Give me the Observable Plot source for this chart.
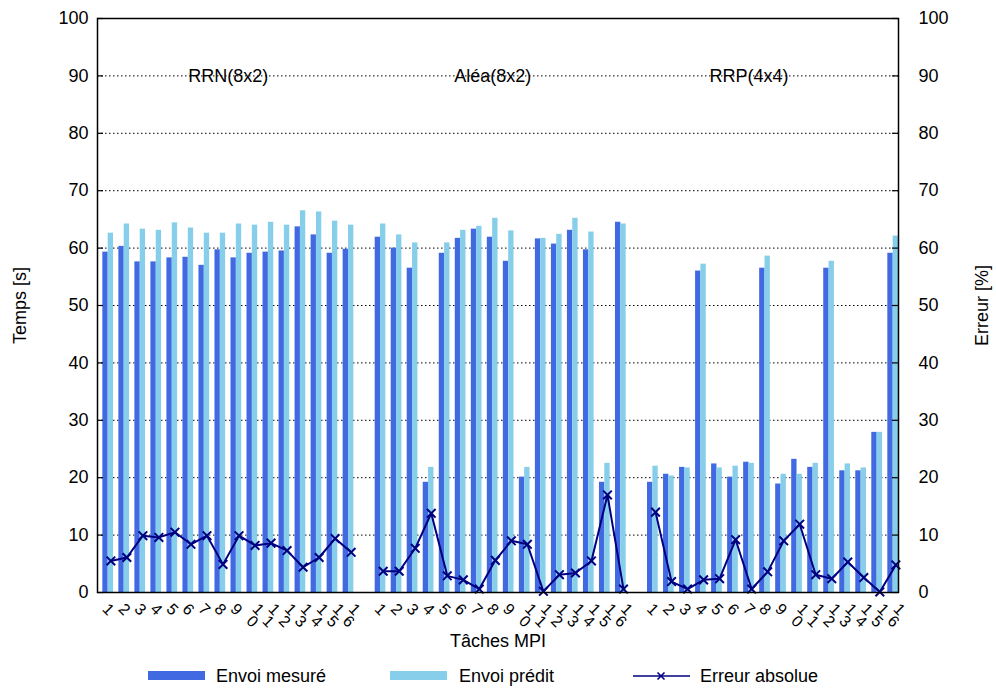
<!DOCTYPE html>
<html><head><meta charset="utf-8">
<script src="https://cdn.jsdelivr.net/npm/d3@7"></script>
<script src="https://cdn.jsdelivr.net/npm/@observablehq/plot@0.6"></script>
<style>
body{margin:0;background:#fff;font-family:"Liberation Sans",Arial,Helvetica,sans-serif;}
#wrap{position:relative;width:996px;height:689px;background:#fff;}
#legend{position:absolute;left:0;top:660px;width:996px;height:29px;font-size:18px;color:#000;}
#legend .sw{position:absolute;top:11px;width:57px;height:9px;}
#legend .lb{position:absolute;top:0;height:32px;line-height:32px;white-space:nowrap;}
#legend svg{position:absolute;top:9px;}
</style></head><body>
<div id="wrap"><div id="chart"></div><div id="legend"></div></div>
<script>
// ---- data ----
const taskLabels = ["1","2","3","4","5","6","7","8","9","10","11","12","13","14","15","16"];
const groupNames = ["RRN(8x2)","Aléa(8x2)","RRP(4x4)"];
const groupLabelAt = [7.5, 24, 40];
const seriesNames = ["Envoi mesuré","Envoi prédit","Erreur absolue"];

const rrnMesure = [59.3,60.3,57.6,57.6,58.3,58.4,57.0,59.7,58.3,59.1,59.3,59.5,63.7,62.3,59.1,59.8];
const rrnPredit = [62.6,64.2,63.3,63.1,64.4,63.5,62.6,62.6,64.2,64.0,64.5,64.0,66.5,66.3,64.7,64.0];
const rrnErreur = [5.5,6.1,9.9,9.6,10.5,8.4,9.9,4.9,9.9,8.2,8.6,7.3,4.4,6.1,9.4,7.0];

const aleaMesure = [61.9,60.0,56.5,19.2,59.1,61.7,63.3,61.9,57.7,20.1,61.6,60.7,63.1,59.7,19.2,64.5];
const aleaPredit = [64.2,62.3,60.9,21.8,60.9,63.1,63.8,65.2,63.0,21.8,61.7,62.4,65.2,62.8,22.5,64.2];
const aleaErreur = [3.7,3.7,7.7,13.8,2.9,2.2,0.6,5.6,9.0,8.4,0.2,3.1,3.4,5.5,17.0,0.6];

const rrpMesure = [19.2,20.6,21.8,56.0,22.4,20.1,22.7,56.5,18.9,23.2,21.8,56.5,21.2,21.2,27.9,59.1];
const rrpPredit = [22.0,20.3,21.7,57.2,21.7,22.0,22.5,58.6,20.6,20.6,22.5,57.7,22.4,21.7,27.9,62.1];
const rrpErreur = [14.0,1.9,0.6,2.2,2.4,9.2,0.6,3.6,9.0,11.9,3.1,2.4,5.3,2.6,0.1,4.8];

const yTicks = [0,10,20,30,40,50,60,70,80,90,100];
const gridValues = [10,20,30,40,50,60,70,80,90];

// ---- table ----
const groups = [
  [rrnMesure, rrnPredit, rrnErreur],
  [aleaMesure, aleaPredit, aleaErreur],
  [rrpMesure, rrpPredit, rrpErreur]
];
const rows = [];
groups.forEach(([m, p, e], g) => {
  taskLabels.forEach((lab, t) => {
    rows.push({group: g, slot: g * 17 + t, label: lab, mes: m[t], pred: p[t], err: e[t]});
  });
});
// tick labels: each glyph turned 45°, second glyph set below-left of the first
const charRows = rows.flatMap(r => [...r.label].map((ch, k) => ({slot: r.slot, ch, k, n: r.label.length})));

const colMes = "#4169e1", colPred = "#87ceeb", colErr = "#000080";
const W = 996, H = 660, mL = 97, mR = 98, mT = 18, mB = 68;
const plotW = W - mL - mR;
const tickFont = 16;
const tickOpts = (extra) => Object.assign({x: d => d.slot + 2/3, y: 0, text: "ch", rotate: 45, textAnchor: "middle", lineAnchor: "middle", fontSize: tickFont}, extra);

const chart = Plot.plot({
  width: W, height: H,
  marginLeft: mL, marginRight: mR, marginTop: mT, marginBottom: mB,
  style: {fontFamily: "'Liberation Sans', Arial, Helvetica, sans-serif", fontSize: "18px", background: "#fff", color: "#000"},
  x: {domain: [0, 50], axis: null},
  y: {domain: [0, 100], axis: null},
  marks: [
    Plot.ruleY(gridValues, {stroke: "#000", strokeWidth: 1, strokeDasharray: "1.5,2.5"}),
    Plot.rect(rows, {x1: d => d.slot + 1/3, x2: d => d.slot + 2/3, y1: 0, y2: "mes", fill: colMes}),
    Plot.rect(rows, {x1: d => d.slot + 2/3, x2: d => d.slot + 1, y1: 0, y2: "pred", fill: colPred}),
    Plot.line(rows, {x: d => d.slot + 5/6, y: "err", z: "group", stroke: colErr, strokeWidth: 2}),
    Plot.dot(rows, {x: d => d.slot + 5/6, y: "err", symbol: "times", r: 4, stroke: colErr, strokeWidth: 2}),
    Plot.ruleY(yTicks, {stroke: "#000", strokeWidth: 1.2, insetRight: plotW - 6}),
    Plot.ruleY(yTicks, {stroke: "#000", strokeWidth: 1.2, insetLeft: plotW - 6}),
    Plot.frame({stroke: "#000", strokeWidth: 1.5}),
    Plot.axisY(yTicks, {anchor: "left", tickSize: 0, tickPadding: 9, label: null, fontSize: 18}),
    Plot.axisY(yTicks, {anchor: "right", tickSize: 0, tickPadding: 20, label: null, fontSize: 18}),
    Plot.text(charRows.filter(c => c.n === 1), tickOpts({dx: 0, dy: 17})),
    Plot.text(charRows.filter(c => c.n === 2 && c.k === 0), tickOpts({dx: 6, dy: 17})),
    Plot.text(charRows.filter(c => c.n === 2 && c.k === 1), tickOpts({dx: 0, dy: 29})),
    Plot.text(groupNames, {x: (d, i) => groupLabelAt[i] + 2/3, y: 90, text: d => d, fontSize: 18}),
    Plot.text(["Temps [s]"], {frameAnchor: "left", rotate: -90, dx: -77, textAnchor: "middle", lineAnchor: "middle", fontSize: 18}),
    Plot.text(["Erreur [%]"], {frameAnchor: "right", rotate: -90, dx: 84, textAnchor: "middle", lineAnchor: "middle", fontSize: 18}),
    Plot.text(["Tâches MPI"], {frameAnchor: "bottom", dy: 49, textAnchor: "middle", lineAnchor: "middle", fontSize: 18})
  ]
});
document.getElementById("chart").appendChild(chart);

// ---- legend ----
const leg = document.getElementById("legend");
const items = [
  {name: seriesNames[0], kind: "bar", color: colMes, sx: 148, tx: 216},
  {name: seriesNames[1], kind: "bar", color: colPred, sx: 390, tx: 459},
  {name: seriesNames[2], kind: "line", color: colErr, sx: 633, tx: 700}
];
items.forEach(it => {
  if (it.kind === "bar") {
    const s = document.createElement("div");
    s.className = "sw"; s.style.left = it.sx + "px"; s.style.background = it.color;
    leg.appendChild(s);
  } else {
    const ns = "http://www.w3.org/2000/svg";
    const svg = document.createElementNS(ns, "svg");
    svg.setAttribute("width", 57); svg.setAttribute("height", 14);
    svg.style.left = it.sx + "px";
    svg.innerHTML = `<line x1="0" x2="57" y1="7" y2="7" stroke="${it.color}" stroke-width="1.6"/>` +
      `<path d="M24.5,3.5L31.5,10.5M24.5,10.5L31.5,3.5" stroke="${it.color}" stroke-width="1.6"/>`;
    leg.appendChild(svg);
  }
  const l = document.createElement("div");
  l.className = "lb"; l.style.left = it.tx + "px"; l.textContent = it.name;
  leg.appendChild(l);
});
</script>
</body></html>
